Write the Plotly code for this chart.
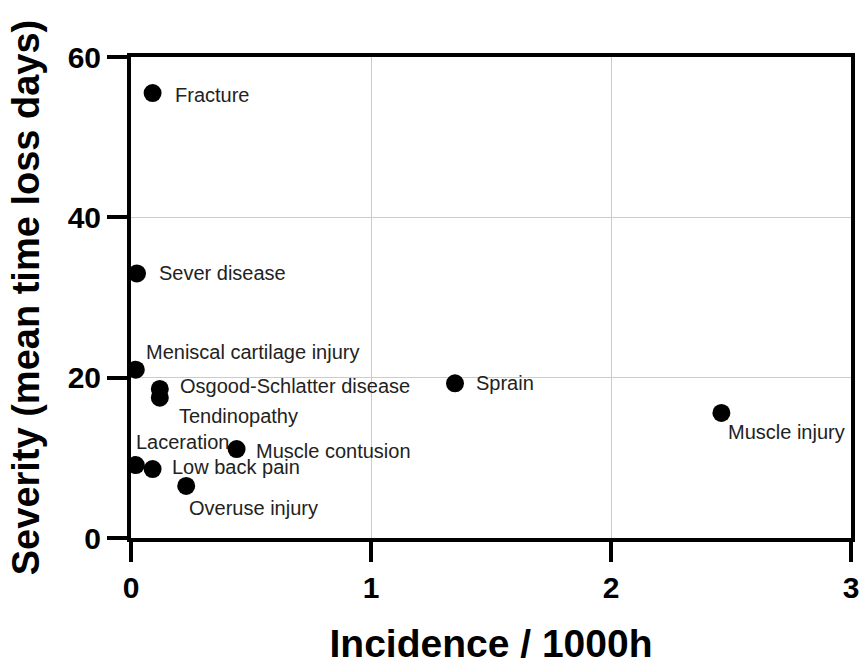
import plotly.graph_objects as go

# Données
injuries = ["Fracture", "Sever disease", "Meniscal cartilage injury", "Osgood-Schlatter disease",
            "Tendinopathy", "Laceration", "Low back pain", "Overuse injury",
            "Muscle contusion", "Sprain", "Muscle injury"]
incidence = [0.09, 0.025, 0.02, 0.12, 0.12, 0.02, 0.09, 0.23, 0.44, 1.35, 2.46]
severity = [55.5, 33.0, 21.0, 18.6, 17.5, 9.1, 8.6, 6.5, 11.1, 19.3, 15.6]

x_ticks = [0, 1, 2, 3]
y_ticks = [0, 20, 40, 60]

FONT = "Liberation Sans, Arial"

# décalage des étiquettes (pixels) par rapport au point
label_offsets = {
    "Fracture": (20, -2),
    "Sever disease": (20, 0),
    "Meniscal cartilage injury": (8, 18),
    "Osgood-Schlatter disease": (18, 3),
    "Tendinopathy": (17, -18),
    "Laceration": (-2, 23),
    "Low back pain": (17, 2),
    "Muscle contusion": (17, -2),
    "Overuse injury": (1, -22),
    "Sprain": (19, 0),
    "Muscle injury": (5, -19),
}

fig = go.Figure()
fig.add_trace(go.Scatter(
    x=incidence, y=severity, mode="markers",
    marker=dict(color="black", size=18),
    hoverinfo="text", text=injuries, showlegend=False,
))

for name, xv, yv in zip(injuries, incidence, severity):
    dx, dy = label_offsets[name]
    fig.add_annotation(x=xv, y=yv, text=name, showarrow=False,
                       xanchor="left", yanchor="middle", xshift=dx, yshift=dy,
                       font=dict(size=20, color="#222222", family=FONT))

axis_style = dict(
    showline=True, linecolor="black", linewidth=4, mirror=True,
    ticks="outside", ticklen=20, tickwidth=4, tickcolor="black",
    showgrid=True, gridcolor="#cccccc", gridwidth=1, zeroline=False,
    automargin=False,
    tickfont=dict(size=30, color="black", family=FONT, weight="bold"),
)

fig.update_xaxes(range=[0, 3], tickvals=x_ticks, **axis_style,
                 title=dict(text="Incidence / 1000h", standoff=28,
                            font=dict(size=39, color="black", family=FONT, weight="bold")))
fig.update_yaxes(range=[0, 60], tickvals=y_ticks, **axis_style,
                 title=dict(text="Severity (mean time loss days)", standoff=17,
                            font=dict(size=38, color="black", family=FONT, weight="bold")))

fig.update_layout(
    width=863, height=668,
    margin=dict(l=131, r=12, t=57, b=130),
    paper_bgcolor="white", plot_bgcolor="white",
)

# enlever la marge par défaut de la page html et la barre d'outils
fig.write_html("out.html", config={"displayModeBar": False},
               post_script="document.body.style.margin='0';")
